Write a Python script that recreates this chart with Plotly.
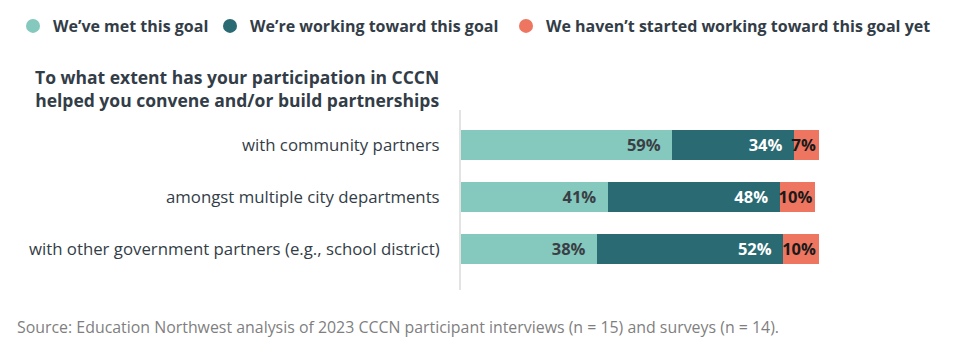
import plotly.graph_objects as go

categories = ["with community partners",
              "amongst multiple city departments",
              "with other government partners (e.g., school district)"]
series_names = ["We’ve met this goal",
                "We’re working toward this goal",
                "We haven’t started working toward this goal yet"]
met = [59, 41, 38]
working = [34, 48, 52]
not_started = [7, 10, 10]

colors = ["#84C8BE", "#2A6B73", "#EE7560"]
text_colors = ["#3a3f45", "#ffffff", "#1a1a1a"]
label_pad = ["\u00a0\u00a0", "\u00a0\u00a0", ""]
legend_ids = ["legend", "legend2", "legend3"]
legend_px = [13, 210, 506]   # left pixel of each legend entry
FONT = "Open Sans"
DARK = "#333d47"

fig = go.Figure()
for name, vals, col, tcol, pad, lid in zip(series_names, [met, working, not_started], colors,
                                           text_colors, label_pad, legend_ids):
    fig.add_trace(go.Bar(
        y=categories, x=vals, orientation="h", name=name,
        marker=dict(color=col, line=dict(width=0)),
        text=[f"{v}%{pad}" for v in vals], textposition="inside", textangle=0,
        insidetextanchor="end", constraintext="none",
        textfont=dict(family=FONT, size=16.5, color=tcol, weight=700),
        showlegend=False, hoverinfo="skip", width=0.58,
    ))
    fig.add_trace(go.Scatter(
        x=[None], y=[None], mode="markers", name=name, legend=lid,
        marker=dict(symbol="circle", size=14, color=col), showlegend=True,
    ))

legend_common = dict(orientation="h", xref="container", yref="container", xanchor="left",
                     y=1 - 9/353, yanchor="top", itemclick=False,
                     font=dict(family=FONT, size=16, color=DARK, weight=700))

fig.update_layout(
    width=960, height=353, barmode="stack",
    margin=dict(l=461, r=141, t=110, b=63),
    paper_bgcolor="white", plot_bgcolor="white",
    uniformtext=dict(minsize=16, mode="show"),
    font=dict(family=FONT, color=DARK),
    legend=dict(x=legend_px[0]/960, **legend_common),
    legend2=dict(x=legend_px[1]/960, **legend_common),
    legend3=dict(x=legend_px[2]/960, **legend_common),
    xaxis=dict(range=[0, 100], visible=False, fixedrange=True),
    yaxis=dict(type="category", range=[2.79, -0.67], showline=True, linecolor="#e3e3e3",
               linewidth=2, ticks="", ticklabelstandoff=16,
               tickfont=dict(family=FONT, size=16.8, color=DARK), showgrid=False),
)
fig.add_annotation(text="To what extent has your participation in CCCN<br>helped you convene and/or build partnerships",
                   xref="paper", yref="paper", x=(237-461)/358, y=1.0, yanchor="bottom",
                   xanchor="center", yshift=-4, showarrow=False, align="center",
                   font=dict(family=FONT, size=17.5, color=DARK, weight=700))
fig.add_annotation(text="Source: Education Northwest analysis of 2023 CCCN participant interviews (n = 15) and surveys (n = 14).",
                   xref="paper", yref="paper", x=(15-461)/358, xanchor="left", y=0, yanchor="top",
                   yshift=-24, showarrow=False, font=dict(family=FONT, size=15.9, color="#7f7f7f"))
fig.write_html("out.html")
